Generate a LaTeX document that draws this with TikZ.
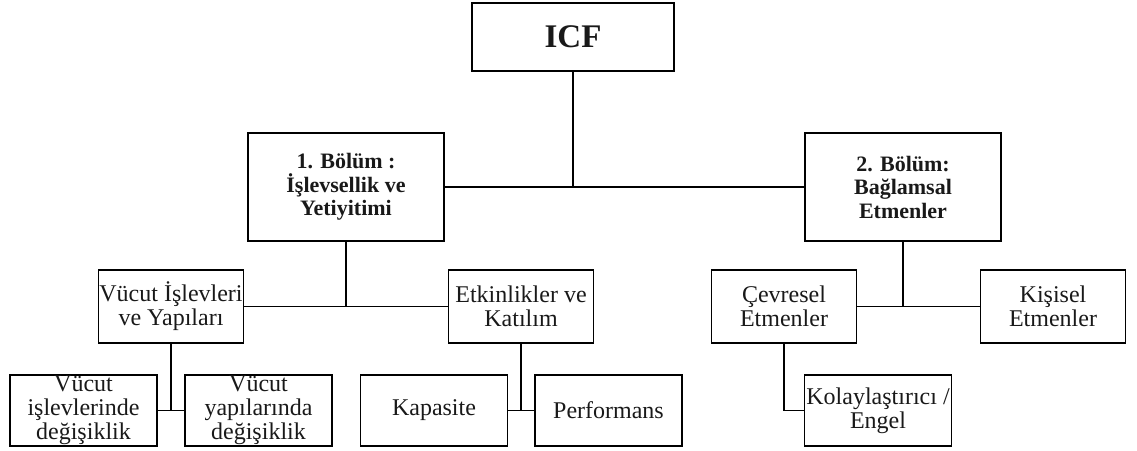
\documentclass[tikz,border=0pt]{standalone}
\usepackage{fontspec}
\setmainfont{Liberation Serif}
\begin{document}
\begin{tikzpicture}[x=1pt,y=-1pt,
  cbox/.style={draw, line width=1.4pt, align=center, inner sep=0pt, text=black!90},
  topbox/.style={cbox, minimum width=202pt, minimum height=68pt, font=\bfseries\fontsize{33}{35}\selectfont},
  secbox/.style={cbox, minimum width=196pt, minimum height=108pt, font=\bfseries\fontsize{22}{23.5}\selectfont},
  subbox/.style={cbox, minimum width=145pt, minimum height=73pt, font=\fontsize{24}{24}\selectfont},
  leafbox/.style={cbox, minimum width=147pt, minimum height=71pt, font=\fontsize{24}{24}\selectfont},
  conn/.style={line width=1.4pt}]
\useasboundingbox (0,0) rectangle (1137,450);
\node[topbox] (icf) at (573,37) {ICF};
\node[secbox] (b1) at (346,187) {1. Bölüm :\\İşlevsellik ve\\Yetiyitimi};
\node[secbox] (b2) at (903,187) {2. Bölüm:\\Bağlamsal\\Etmenler};
\node[subbox] (vi) at (171,306.5) {Vücut İşlevleri\\ve Yapıları};
\node[subbox] (ek) at (521,306.5) {Etkinlikler ve\\Katılım};
\node[subbox] (ce) at (784,306.5) {Çevresel\\Etmenler};
\node[subbox] (ki) at (1053,306.5) {Kişisel\\Etmenler};
\node[leafbox] (vd1) at (83.5,410.5) {Vücut\\işlevlerinde\\değişiklik};
\node[leafbox] (vd2) at (258.5,410.5) {Vücut\\yapılarında\\değişiklik};
\node[leafbox] (ka) at (434,410.5) {Kapasite};
\node[leafbox] (pe) at (608.5,410.5) {Performans};
\node[leafbox] (ko) at (878,410.5) {Kolaylaştırıcı /\\Engel};
\draw[conn] (icf.south) -- (icf.south |- b1.east);
\draw[conn] (b1.east) -- (b2.west);
\draw[conn] (b1.south) -- (b1.south |- vi.east);
\draw[conn] (vi.east) -- (ek.west);
\draw[conn] (vi.south) -- (vi.south |- vd1.east);
\draw[conn] (vd1.east) -- (vd2.west);
\draw[conn] (ek.south) -- (ek.south |- ka.east);
\draw[conn] (ka.east) -- (pe.west);
\draw[conn] (b2.south) -- (b2.south |- ce.east);
\draw[conn] (ce.east) -- (ki.west);
\draw[conn] (ce.south) -- (ce.south |- ko.west) -- (ko.west);
\end{tikzpicture}
\end{document}
